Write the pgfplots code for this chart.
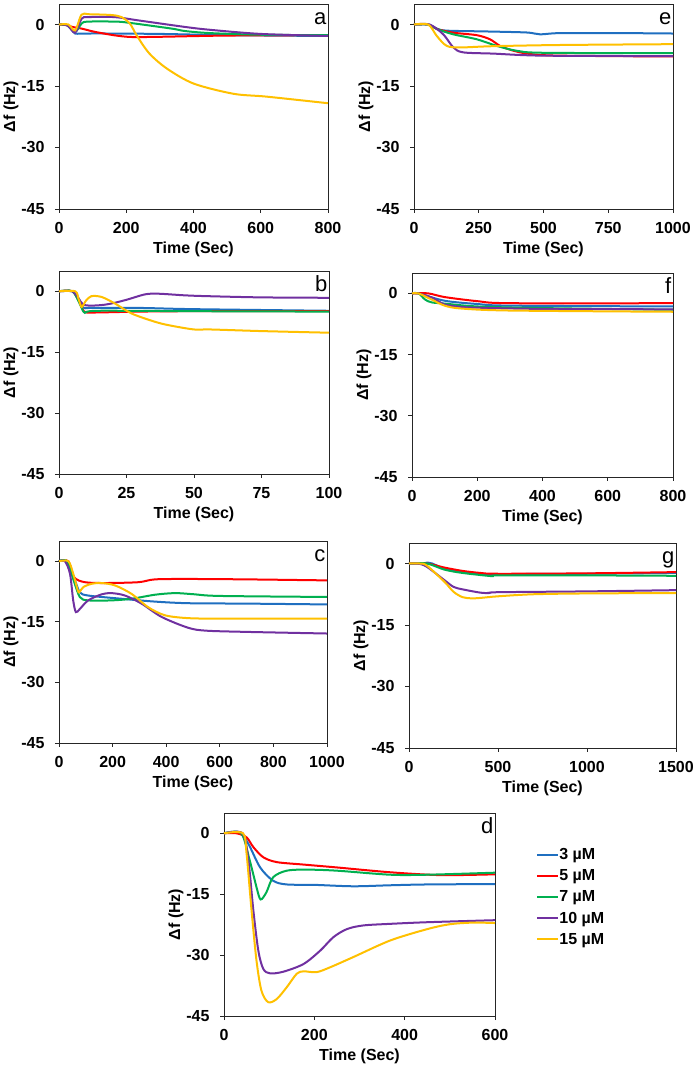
\documentclass[border=0pt]{standalone}
\usepackage{fontspec}
\setmainfont{Liberation Sans}
\usepackage{pgfplots}
\pgfplotsset{compat=1.18}
\definecolor{cB}{HTML}{1F6FC0}
\definecolor{cR}{HTML}{FF0000}
\definecolor{cG}{HTML}{00B050}
\definecolor{cP}{HTML}{7030A0}
\definecolor{cY}{HTML}{FFC000}
\tikzset{letter/.style={anchor=base east, inner sep=0pt, xshift=-1.5pt, font=\fontsize{22}{22}\selectfont}}
\pgfplotsset{
  qcm/.style={
    scale only axis, ymin=-45, ymax=5, xmin=0,
    ytick={-45,-30,-15,0},
    tick align=outside, xtick pos=left, ytick pos=left,
    major tick length=4pt,
    axis line style={black!85, line width=0.9pt},
    every tick/.style={black!85, line width=0.9pt},
    /pgf/number format/assume math mode=true,
    /pgf/number format/1000 sep={},
    ticklabel style={font=\fontsize{16}{16}\selectfont\bfseries},
    label style={font=\fontsize{16}{16}\selectfont\bfseries},
    xticklabel shift=6pt, yticklabel shift=7pt,
    xlabel shift=1pt, ylabel shift=-4pt,
    xlabel={Time (Sec)}, ylabel={Δf (Hz)},
    every axis plot/.append style={line width=2pt, smooth, tension=0.5},
    clip=false,
  },
}
\begin{document}
\begin{tikzpicture}[x=1pt,y=1pt]
\useasboundingbox (0,0) rectangle (697,1069);
% ---------------- a
\begin{axis}[qcm, at={(59pt,860pt)}, width=269pt, height=205pt, xmax=800, xtick={0,200,400,600,800}]
\addplot[cB] coordinates {(0,0)(20,0)(35,-1.0)(48,-2.2)(70,-2.2)(150,-2.2)(300,-2.3)(500,-2.6)(800,-2.8)};
\addplot[cR] coordinates {(0,0)(25,-0.2)(40,-0.6)(67,-1.0)(107,-1.8)(166,-2.65)(216,-3.05)(300,-3.0)(500,-2.7)(800,-2.6)};
\addplot[cG] coordinates {(0,0)(25,-0.2)(48,-1.8)(67,0.2)(85,0.7)(170,0.7)(210,0.4)(335,-1.0)(375,-1.6)(450,-2.1)(600,-2.5)(800,-2.6)};
\addplot[cP] coordinates {(0,0)(25,-0.2)(48,-2.0)(67,1.4)(87,1.8)(166,1.8)(236,1.0)(375,-0.6)(450,-1.3)(600,-2.3)(800,-2.8)};
\addplot[cY] coordinates {(0,0)(28,0)(48,-1.45)(67,2.4)(90,2.5)(157,2.3)(186,1.8)(211,0.2)(231,-2.65)(268,-7.0)(320,-10.7)(400,-14.4)(519,-16.9)(618,-17.6)(800,-19.2)};
\node[letter] at (axis cs:800,0) {a};
\end{axis}
% ---------------- e
\begin{axis}[qcm, at={(414pt,860pt)}, width=259pt, height=205pt, xmax=1000, xtick={0,250,500,750,1000}]
\addplot[cB] coordinates {(0,0)(55,0)(88,-1.0)(126,-1.5)(280,-1.7)(435,-1.95)(487,-2.4)(564,-2.1)(800,-2.1)(1000,-2.2)};
\addplot[cR] coordinates {(0,0)(55,0)(88,-1.1)(152,-2.0)(242,-2.6)(293,-3.6)(332,-5.2)(384,-6.4)(448,-7.2)(564,-7.6)(1000,-7.8)};
\addplot[cG] coordinates {(0,0)(55,0)(88,-1.1)(152,-2.4)(242,-3.6)(319,-5.2)(396,-6.4)(500,-6.9)(1000,-7.0)};
\addplot[cP] coordinates {(0,0)(60,0)(113,-2.4)(152,-5.6)(190,-6.8)(306,-7.1)(500,-7.6)(1000,-7.7)};
\addplot[cY] coordinates {(0,0)(55,0)(88,-2.8)(126,-5.2)(178,-5.6)(300,-5.3)(564,-5.0)(1000,-4.8)};
\node[letter] at (axis cs:1000,0) {e};
\end{axis}
% ---------------- b
\begin{axis}[qcm, at={(59pt,595pt)}, width=270pt, height=203pt, xmax=100, xtick={0,25,50,75,100}]
\addplot[cB] coordinates {(0,0)(5,0)(7,-1.5)(9,-4.0)(12,-4.1)(30,-4.1)(50,-4.4)(100,-4.8)};
\addplot[cR] coordinates {(0,0)(5,0)(7.8,-3.0)(9.6,-5.1)(15,-5.2)(30,-5.0)(50,-4.9)(100,-4.9)};
\addplot[cG] coordinates {(0,0)(5,0)(8,-3.5)(9.6,-5.3)(14,-4.8)(50,-4.9)(100,-5.0)};
\addplot[cP] coordinates {(0,0)(5,0)(7,-1.5)(9.6,-3.4)(17,-3.3)(24.4,-2.2)(31.9,-0.75)(37,-0.6)(46.7,-1.0)(55,-1.2)(75,-1.5)(100,-1.6)};
\addplot[cY] coordinates {(0,0)(6,0)(7.3,-2)(8.4,-3.85)(10,-2.3)(12,-1.2)(15.8,-1.4)(20.7,-3.0)(27,-5.5)(35.5,-7.5)(41,-8.4)(50,-9.4)(56,-9.4)(75,-9.8)(100,-10.2)};
\node[letter] at (axis cs:100,0) {b};
\end{axis}
% ---------------- f
\begin{axis}[qcm, at={(412pt,592pt)}, width=261pt, height=204pt, xmax=800, xtick={0,200,400,600,800}]
\addplot[cB] coordinates {(0,0)(20,0)(100,-1.8)(200,-2.6)(300,-3.0)(800,-3.2)};
\addplot[cR] coordinates {(0,0)(50,0)(100,-0.9)(200,-1.9)(300,-2.4)(800,-2.4)};
\addplot[cG] coordinates {(0,0)(20,0)(40,-1.5)(60,-2.2)(100,-2.5)(200,-3.2)(400,-3.6)(800,-4.0)};
\addplot[cP] coordinates {(0,0)(20,0)(60,-1.0)(100,-2.7)(150,-3.3)(200,-3.5)(400,-3.8)(800,-3.9)};
\addplot[cY] coordinates {(0,0)(20,0)(60,-1.5)(100,-3.0)(150,-3.7)(300,-4.2)(800,-4.5)};
\node[letter] at (axis cs:800,0) {f};
\end{axis}
% ---------------- c
\begin{axis}[qcm, at={(59pt,326pt)}, width=268pt, height=202pt, xmax=1000, xtick={0,200,400,600,800,1000}]
\addplot[cR] coordinates {(0,0)(35,0)(57,-4.0)(97,-5.2)(172,-5.4)(296,-5.2)(358,-4.5)(483,-4.4)(700,-4.5)(1000,-4.75)};
\addplot[cB] coordinates {(0,0)(30,0)(60,-4.8)(78,-7.7)(109,-8.5)(234,-9.3)(358,-10.0)(483,-10.4)(700,-10.5)(1000,-10.7)};
\addplot[cG] coordinates {(0,0)(30,0)(55,-4.8)(78,-8.9)(109,-9.7)(196,-9.7)(271,-9.3)(358,-8.3)(433,-7.9)(507,-8.2)(600,-8.6)(1000,-8.85)};
\addplot[cP] coordinates {(0,0)(22,0)(41,-3.1)(53,-9.7)(63,-12.6)(78,-11.8)(109,-9.7)(159,-8.2)(196,-7.9)(246,-8.5)(308,-10.5)(383,-13.8)(483,-16.5)(550,-17.2)(700,-17.5)(1000,-17.9)};
\addplot[cY] coordinates {(0,0)(35,0)(53,-3.1)(70,-7.2)(76,-7.65)(91,-6.4)(122,-5.6)(159,-5.4)(209,-6.0)(271,-8.1)(333,-11.4)(396,-13.4)(483,-14.1)(600,-14.2)(1000,-14.2)};
\node[letter] at (axis cs:1000,0) {c};
\end{axis}
% ---------------- g
\begin{axis}[qcm, at={(409pt,321pt)}, width=267pt, height=205pt, xmax=1500, xtick={0,500,1000,1500}]
\addplot[cB] coordinates {(0,0)(80,0)(100,0.2)(130,0)(200,-1.3)(300,-2.0)(470,-2.8)(500,-2.6)(1000,-2.5)(1500,-2.3)};
\addplot[cR] coordinates {(0,0)(100,0)(200,-1.0)(300,-1.8)(400,-2.3)(500,-2.5)(1000,-2.4)(1500,-2.1)};
\addplot[cG] coordinates {(0,0)(100,0)(200,-1.5)(300,-2.3)(470,-3.1)(500,-2.9)(1000,-2.9)(1500,-3.0)};
\addplot[cP] coordinates {(0,0)(50,0)(100,-0.8)(200,-4.1)(250,-5.7)(300,-6.3)(400,-7.1)(450,-7.2)(500,-7.0)(1000,-6.8)(1500,-6.5)};
\addplot[cY] coordinates {(0,0)(60,0)(100,-0.5)(200,-4.5)(250,-6.9)(300,-8.2)(350,-8.5)(400,-8.4)(500,-8.0)(700,-7.5)(1000,-7.3)(1500,-7.2)};
\node[letter] at (axis cs:1500,0) {g};
\end{axis}
% ---------------- d
\begin{axis}[qcm, at={(224pt,53pt)}, width=271pt, height=203pt, xmax=600, xtick={0,200,400,600},
  legend style={at={(rel axis cs:1.152,0.83)}, anchor=north west, draw=none, fill=none,
    font=\fontsize{16}{16}\selectfont\bfseries, row sep=6.5pt, inner sep=0pt,
    nodes={inner sep=1pt}, /tikz/every odd column/.append style={column sep=-1pt}},
  legend cell align=left,
  legend image code/.code={\draw[#1, line width=2pt, sharp plot] (0pt,0pt) -- (21pt,0pt);}]
\addplot[cB] coordinates {(0,0)(35,0)(54,-2.6)(80,-8.4)(109,-11.7)(139,-12.6)(200,-12.7)(286,-13.05)(368,-12.8)(450,-12.6)(600,-12.5)};
\addplot[cR] coordinates {(0,0)(28,0)(50,-1.0)(65,-3.4)(87,-5.9)(117,-7.1)(176,-7.7)(249,-8.4)(368,-9.6)(480,-10.3)(600,-10.1)};
\addplot[cG] coordinates {(0,0)(38,0)(57,-6.7)(72,-13.3)(81,-16.3)(94,-14.5)(109,-10.8)(139,-9.2)(183,-8.95)(249,-9.2)(368,-10.2)(450,-10.2)(600,-9.7)};
\addplot[cP] coordinates {(0,0)(41,0)(54,-6.7)(65,-19.0)(76,-28.9)(87,-33.4)(102,-34.5)(131,-34.1)(176,-32.2)(213,-28.9)(242,-25.6)(272,-23.6)(308,-22.7)(368,-22.3)(450,-21.9)(600,-21.4)};
\addplot[cY] coordinates {(0,0)(42,0)(50,-5)(61,-19.0)(72,-31.4)(83,-38.8)(98,-41.6)(117,-40.8)(139,-37.9)(161,-34.6)(176,-34.0)(205,-34.2)(235,-33.0)(286,-30.5)(368,-26.4)(450,-23.6)(500,-22.4)(550,-22.0)(600,-22.1)};
\legend{3 µM, 5 µM, 7 µM, 10 µM, 15 µM}
\node[letter] at (axis cs:600,0) {d};
\end{axis}
\end{tikzpicture}
\end{document}
